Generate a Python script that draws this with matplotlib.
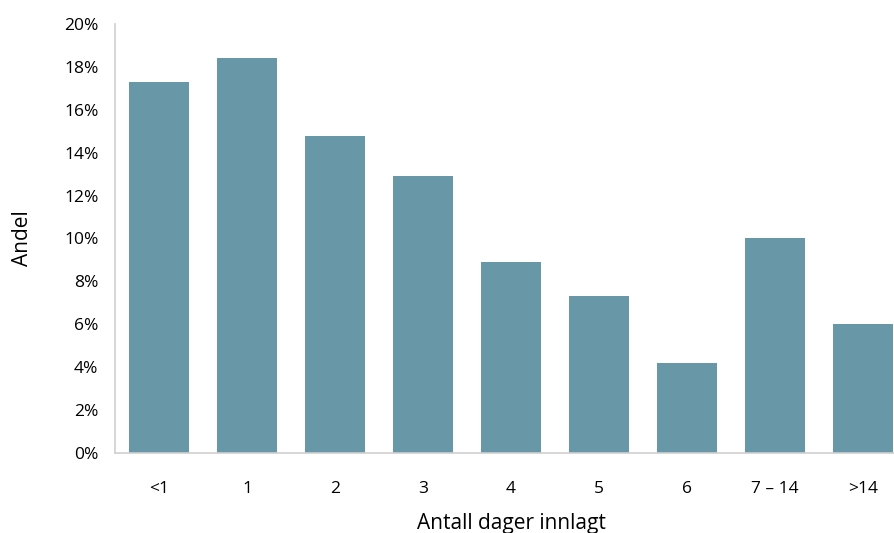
import matplotlib.pyplot as plt
import numpy as np

categories = ["<1", "1", "2", "3", "4", "5", "6", "7 – 14", ">14"]
values = [17.3, 18.4, 14.8, 12.9, 8.9, 7.3, 4.2, 10.0, 6.0]

plt.rcParams['font.family'] = ['Open Sans', 'DejaVu Sans']
fig = plt.figure(figsize=(8.94, 5.33), dpi=100)
# axes spans pixel x 115..907, y 24..453
ax = fig.add_axes([115/894, (533-453)/533, 792/894, 429/533])
x = np.arange(len(categories))
ax.bar(x, values, width=0.68, color="#6897A7")
ax.set_xlim(-0.5, 8.5)
ax.set_ylim(0, 20)
ax.set_yticks(range(0, 21, 2))
ax.set_yticklabels([f"{v}%" for v in range(0, 21, 2)])
ax.set_xticks(x)
ax.set_xticklabels(categories)
ax.tick_params(labelsize=12.5, length=0, pad=12)
ax.tick_params(axis="x", pad=20)
for s in ["top", "right"]:
    ax.spines[s].set_visible(False)
for s in ["left", "bottom"]:
    ax.spines[s].set_color("#D0D0D0")
    ax.spines[s].set_linewidth(1.2)
ax.set_ylabel("Andel", fontsize=15, labelpad=22)
ax.set_xlabel("Antall dager innlagt", fontsize=15, labelpad=12)
fig.savefig("out.png", dpi=100)
